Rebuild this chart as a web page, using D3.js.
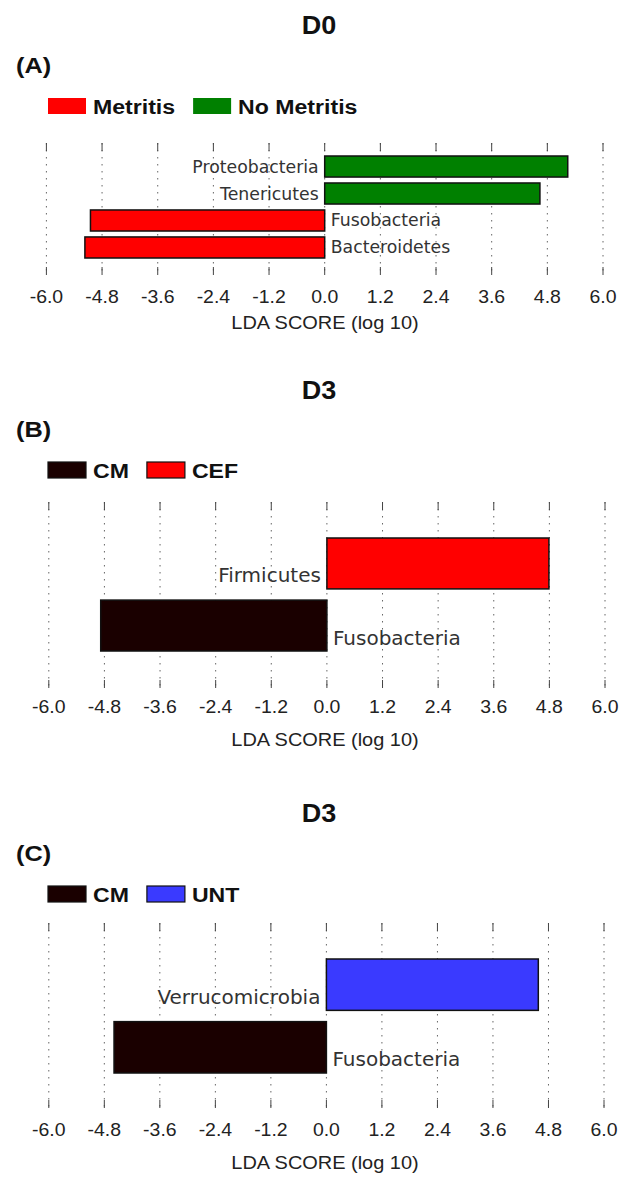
<!DOCTYPE html>
<html>
<head>
<meta charset="utf-8">
<script src="https://cdn.jsdelivr.net/npm/d3@7"></script>
<style>
  body { margin: 0; background: #fff; }
</style>
</head>
<body>
<script>
// LDA tick labels shared by all three panels
const ldaTicks = [-6.0, -4.8, -3.6, -2.4, -1.2, 0.0, 1.2, 2.4, 3.6, 4.8, 6.0];

// panel A - D0
const taxaA = ["Proteobacteria", "Tenericutes", "Fusobacteria", "Bacteroidetes"];
const ldaA = [5.24, 4.64, -5.05, -5.17];
const legendA = ["Metritis", "No Metritis"];

// panel B - D3
const taxaB = ["Firmicutes", "Fusobacteria"];
const ldaB = [4.79, -4.88];
const legendB = ["CM", "CEF"];

// panel C - D3
const taxaC = ["Verrucomicrobia", "Fusobacteria"];
const ldaC = [4.58, -4.59];
const legendC = ["CM", "UNT"];

const titles = ["D0", "D3", "D3"];
const letters = ["(A)", "(B)", "(C)"];

const SANS = "Liberation Sans, Arial, sans-serif";

function init() {
  const svg = d3.select("body").append("svg")
    .attr("width", 621)
    .attr("height", 1178);

  // layout of each panel (pixels)
  const panels = [
    { taxa: taxaA, lda: ldaA, legend: legendA, neg: "#ff0000", pos: "#008000", legStroke: false,
      x0: 46.4, x1: 603, titleY: 34, letterY: 73, legY: 98, gridTop: 143, gridBot: 275,
      barTop: 156, barBot: 258, pad: 0.22, labelSize: 17.3, labelDy: 6, tickY: 303, ldaY: 329 },
    { taxa: taxaB, lda: ldaB, legend: legendB, neg: "#1a0000", pos: "#ff0000", legStroke: true,
      x0: 48.8, x1: 605, titleY: 399, letterY: 437, legY: 462, gridTop: 502, gridBot: 688,
      barTop: 538, barBot: 651, pad: 0.18, labelSize: 20, labelDy: 19, tickY: 713, ldaY: 746 },
    { taxa: taxaC, lda: ldaC, legend: legendC, neg: "#1a0000", pos: "#3a3aff", legStroke: true,
      x0: 48.8, x1: 604, titleY: 822, letterY: 861, legY: 886, gridTop: 923, gridBot: 1108,
      barTop: 959, barBot: 1073, pad: 0.18, labelSize: 20, labelDy: 19, tickY: 1136, ldaY: 1169 }
  ];

  panels.forEach((p, i) => {
    const g = svg.append("g");

    const x = d3.scaleLinear().domain([-6, 6]).range([p.x0, p.x1]);
    const y = d3.scaleBand().domain(p.taxa).range([p.barTop, p.barBot])
      .paddingInner(p.pad).paddingOuter(0);

    // title and panel letter
    g.append("text")
      .attr("transform", `translate(319,${p.titleY}) scale(1.08,1)`)
      .attr("text-anchor", "middle")
      .attr("font-family", SANS)
      .attr("font-weight", "bold")
      .attr("font-size", "25px")
      .attr("fill", "#111")
      .text(titles[i]);

    g.append("text")
      .attr("transform", `translate(16,${p.letterY}) scale(1.15,1)`)
      .attr("font-family", SANS)
      .attr("font-weight", "bold")
      .attr("font-size", "22px")
      .attr("fill", "#111")
      .text(letters[i]);

    // legend: first entry = negative side colour, second = positive side
    const legColors = [p.neg, p.pos];
    let lx = 48;
    p.legend.forEach((name, k) => {
      g.append("rect")
        .attr("x", lx)
        .attr("y", p.legY)
        .attr("width", 38)
        .attr("height", 16)
        .attr("fill", legColors[k])
        .attr("stroke", p.legStroke ? "#111" : "none")
        .attr("stroke-width", 1.2);
      const t = g.append("text")
        .attr("transform", `translate(${lx + 45},${p.legY + 16}) scale(1.1,1)`)
        .attr("font-family", SANS)
        .attr("font-weight", "bold")
        .attr("font-size", "21px")
        .attr("fill", "#111")
        .text(name);
      lx = lx + 45 + t.node().getComputedTextLength() * 1.1 + 18;
    });

    // grid lines with short ticks at both ends
    const grid = g.append("g");
    ldaTicks.forEach(v => {
      grid.append("line")
        .attr("x1", x(v)).attr("x2", x(v))
        .attr("y1", p.gridTop).attr("y2", p.gridBot)
        .attr("stroke", "#666")
        .attr("stroke-width", 1)
        .attr("stroke-dasharray", "1.5,5.5");
      grid.append("line")
        .attr("x1", x(v)).attr("x2", x(v))
        .attr("y1", p.gridTop).attr("y2", p.gridTop + 8)
        .attr("stroke", "#444").attr("stroke-width", 1);
      grid.append("line")
        .attr("x1", x(v)).attr("x2", x(v))
        .attr("y1", p.gridBot - 8).attr("y2", p.gridBot)
        .attr("stroke", "#444").attr("stroke-width", 1);
    });

    // bars
    g.selectAll("rect.bar")
      .data(p.taxa)
      .enter().append("rect")
      .attr("class", "bar")
      .attr("x", (d, k) => x(Math.min(0, p.lda[k])))
      .attr("y", d => y(d))
      .attr("width", (d, k) => Math.abs(x(p.lda[k]) - x(0)))
      .attr("height", y.bandwidth())
      .attr("fill", (d, k) => p.lda[k] < 0 ? p.neg : p.pos)
      .attr("stroke", "#111")
      .attr("stroke-width", 1.5);

    // taxa labels on the opposite side of zero
    g.selectAll("text.taxon")
      .data(p.taxa)
      .enter().append("text")
      .attr("class", "taxon")
      .attr("x", (d, k) => p.lda[k] < 0 ? x(0) + 6 : x(0) - 6)
      .attr("y", d => y(d) + y.bandwidth() / 2 + p.labelDy)
      .attr("text-anchor", (d, k) => p.lda[k] < 0 ? "start" : "end")
      .attr("font-family", "DejaVu Sans, sans-serif")
      .attr("font-size", p.labelSize + "px")
      .attr("fill", "#333")
      .text(d => d);

    // tick labels
    g.selectAll("text.tick")
      .data(ldaTicks)
      .enter().append("text")
      .attr("class", "tick")
      .attr("transform", d => `translate(${x(d)},${p.tickY}) scale(1.08,1)`)
      .attr("text-anchor", "middle")
      .attr("font-family", SANS)
      .attr("font-size", "18px")
      .attr("fill", "#222")
      .text(d => d.toFixed(1));

    g.append("text")
      .attr("transform", `translate(325,${p.ldaY}) scale(1.05,1)`)
      .attr("text-anchor", "middle")
      .attr("font-family", SANS)
      .attr("font-size", "19px")
      .attr("fill", "#222")
      .text("LDA SCORE (log 10)");
  });
}

init();
</script>
</body>
</html>
